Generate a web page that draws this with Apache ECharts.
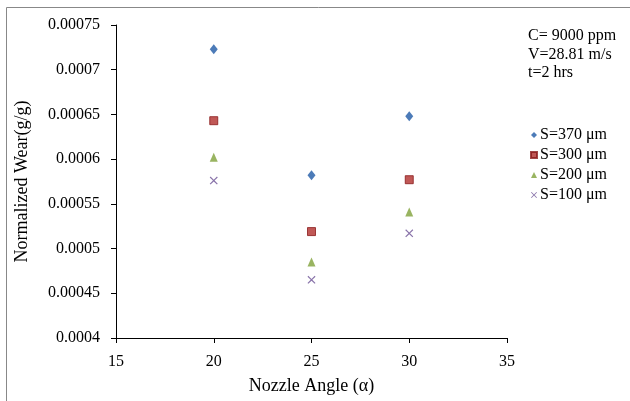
<!DOCTYPE html>
<html>
<head>
<meta charset="utf-8">
<script src="https://cdn.jsdelivr.net/npm/echarts@6/dist/echarts.min.js"></script>
<style>
html, body { margin: 0; padding: 0; background: #fff; }
#chart { width: 630px; height: 401px; }
</style>
</head>
<body>
<div id="chart"></div>
<script>
// nozzle angles (x) and normalized wear per particle size
var angles = [20, 25, 30];
var wear370 = [0.000723, 0.000582, 0.000648];
var wear300 = [0.000643, 0.000519, 0.000577];
var wear200 = [0.000602, 0.000485, 0.000541];
var wear100 = [0.000576, 0.000465, 0.000517];
var seriesNames = ['S=370 μm', 'S=300 μm', 'S=200 μm', 'S=100 μm'];
var yTickLabels = ['0.0004', '0.00045', '0.0005', '0.00055', '0.0006', '0.00065', '0.0007', '0.00075'];
var noteLines = ['C= 9000 ppm', 'V=28.81 m/s', 't=2 hrs'];

var font = 'Liberation Serif';
var crossPath = 'path://M0,1L1,0L5,4L9,0L10,1L6,5L10,9L9,10L5,6L1,10L0,9L4,5Z';

function pairs(ys) {
  return angles.map(function (a, i) { return [a, ys[i]]; });
}

var myChart = echarts.init(document.getElementById('chart'));
myChart.setOption({
  animation: false,
  grid: { left: 116, right: 123, top: 25, bottom: 63 },
  legend: {
    orient: 'vertical',
    left: 525,
    top: 122,
    itemWidth: 6,
    itemHeight: 6,
    itemGap: 4,
    textStyle: { fontFamily: font, fontSize: 16, color: '#000', lineHeight: 16, padding: [0, 0, 0, -2] },
    data: seriesNames
  },
  xAxis: {
    type: 'value',
    min: 15,
    max: 35,
    interval: 5,
    name: 'Nozzle Angle (α)',
    nameLocation: 'middle',
    nameGap: 39,
    nameTextStyle: { fontFamily: font, fontSize: 18, color: '#000' },
    splitLine: { show: false },
    axisLine: { onZero: false, lineStyle: { color: '#000', width: 1 } },
    axisTick: { length: 5, lineStyle: { color: '#000' } },
    axisLabel: { margin: 16, fontFamily: font, fontSize: 16, color: '#000' }
  },
  yAxis: {
    type: 'value',
    min: 0.0004,
    max: 0.00075,
    interval: 0.00005,
    name: 'Normalized Wear(g/g)',
    nameLocation: 'middle',
    nameGap: 85,
    nameRotate: 90,
    nameTextStyle: { fontFamily: font, fontSize: 18, color: '#000' },
    splitLine: { show: false },
    axisLine: { show: true, lineStyle: { color: '#000', width: 1 } },
    axisTick: { show: true, length: 5, lineStyle: { color: '#000' } },
    axisLabel: {
      margin: 16, fontFamily: font, fontSize: 16, color: '#000',
      formatter: function (v) {
        var i = Math.round((v - 0.0004) / 0.00005);
        return yTickLabels[i];
      }
    }
  },
  graphic: [
    { type: 'line', shape: { x1: 6.5, y1: 7.5, x2: 630, y2: 7.5 }, style: { stroke: '#888', lineWidth: 1 } },
    { type: 'line', shape: { x1: 6.5, y1: 7.5, x2: 6.5, y2: 401 }, style: { stroke: '#888', lineWidth: 1 } },
    {
      type: 'text', left: 528, top: 27,
      style: { text: noteLines.join('\n'), fontFamily: font, fontSize: 16, lineHeight: 18.5, fill: '#000' }
    }
  ],
  series: [
    {
      name: seriesNames[0], type: 'scatter', data: pairs(wear370),
      symbol: 'diamond', symbolSize: [8, 10],
      itemStyle: { color: '#1F5AA6' }
    },
    {
      name: seriesNames[1], type: 'scatter', data: pairs(wear300),
      symbol: 'rect', symbolSize: 8,
      itemStyle: { color: '#B02E2C', borderColor: '#8A1A1A', borderWidth: 1 }
    },
    {
      name: seriesNames[2], type: 'scatter', data: pairs(wear200),
      symbol: 'triangle', symbolSize: [8, 9],
      itemStyle: { color: '#7FA13A' }
    },
    {
      name: seriesNames[3], type: 'scatter', data: pairs(wear100),
      symbol: crossPath, symbolSize: 8,
      itemStyle: { color: '#6A4F93' }
    }
  ]
});
</script>
</body>
</html>
